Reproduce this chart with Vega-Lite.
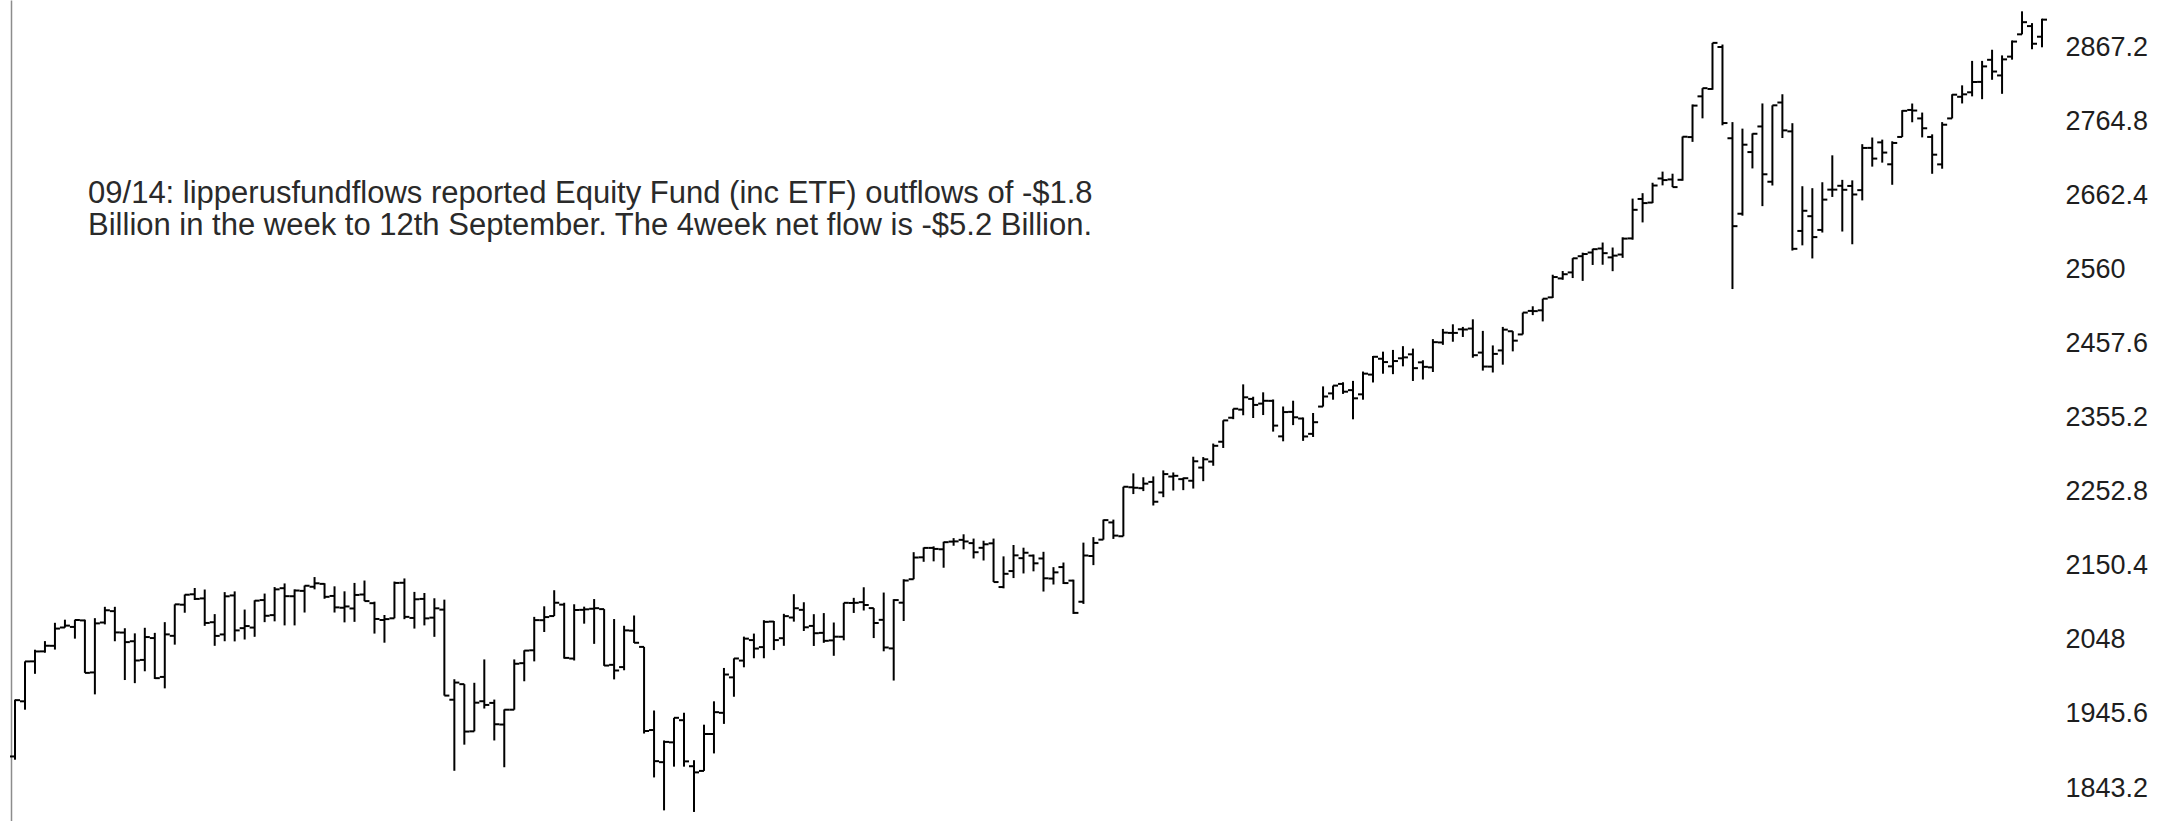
{
  "$schema": "https://vega.github.io/schema/vega-lite/v6.json",
  "width": 2044,
  "height": 821,
  "autosize": {"type": "none"},
  "padding": {"left": 11, "top": 0, "right": 110, "bottom": 0},
  "background": "#ffffff",
  "config": {"view": {"stroke": null}},
  "resolve": {"axis": {"y": "independent"}},
  "layer": [
    {
      "data": {"name": "weekly", "values": [
        {"date":"2014-10-24","open":1886.8,"high":1965.3,"low":1882.3,"close":1964.6},
        {"date":"2014-10-31","open":1963.0,"high":2018.2,"low":1951.4,"close":2018.1},
        {"date":"2014-11-07","open":2018.2,"high":2034.3,"low":2001.0,"close":2031.9},
        {"date":"2014-11-14","open":2032.0,"high":2046.2,"low":2030.2,"close":2039.8},
        {"date":"2014-11-21","open":2039.7,"high":2071.5,"low":2034.5,"close":2063.5},
        {"date":"2014-11-28","open":2065.0,"high":2075.8,"low":2064.8,"close":2067.6},
        {"date":"2014-12-05","open":2065.8,"high":2075.8,"low":2049.6,"close":2075.4},
        {"date":"2014-12-12","open":2074.8,"high":2075.8,"low":2002.3,"close":2002.3},
        {"date":"2014-12-19","open":2002.9,"high":2077.9,"low":1972.6,"close":2070.7},
        {"date":"2014-12-26","open":2071.9,"high":2093.6,"low":2069.3,"close":2088.8},
        {"date":"2015-01-02","open":2087.6,"high":2093.6,"low":2046.0,"close":2058.2},
        {"date":"2015-01-09","open":2058.0,"high":2064.0,"low":1992.4,"close":2044.8},
        {"date":"2015-01-16","open":2046.0,"high":2056.9,"low":1988.1,"close":2019.4},
        {"date":"2015-01-23","open":2020.2,"high":2064.6,"low":2004.5,"close":2051.8},
        {"date":"2015-01-30","open":2050.4,"high":2057.6,"low":1993.9,"close":1995.0},
        {"date":"2015-02-06","open":1996.7,"high":2072.4,"low":1980.9,"close":2055.5},
        {"date":"2015-02-13","open":2053.5,"high":2097.0,"low":2041.3,"close":2097.0},
        {"date":"2015-02-20","open":2096.5,"high":2110.6,"low":2085.4,"close":2110.3},
        {"date":"2015-02-27","open":2110.9,"high":2119.6,"low":2103.0,"close":2104.5},
        {"date":"2015-03-06","open":2105.2,"high":2117.5,"low":2067.3,"close":2071.3},
        {"date":"2015-03-13","open":2072.3,"high":2083.5,"low":2039.7,"close":2053.4},
        {"date":"2015-03-20","open":2055.4,"high":2113.9,"low":2046.0,"close":2108.1},
        {"date":"2015-03-27","open":2109.3,"high":2114.9,"low":2045.8,"close":2061.0},
        {"date":"2015-04-03","open":2064.1,"high":2089.8,"low":2048.4,"close":2067.0},
        {"date":"2015-04-10","open":2064.9,"high":2102.6,"low":2052.1,"close":2102.1},
        {"date":"2015-04-17","open":2102.9,"high":2111.9,"low":2072.4,"close":2081.2},
        {"date":"2015-04-24","open":2082.1,"high":2120.9,"low":2073.5,"close":2117.7},
        {"date":"2015-05-01","open":2119.3,"high":2125.9,"low":2067.9,"close":2108.3},
        {"date":"2015-05-08","open":2108.2,"high":2117.7,"low":2067.9,"close":2116.1},
        {"date":"2015-05-15","open":2115.6,"high":2123.0,"low":2085.7,"close":2122.7},
        {"date":"2015-05-22","open":2121.3,"high":2134.7,"low":2117.7,"close":2126.1},
        {"date":"2015-05-29","open":2125.3,"high":2126.2,"low":2104.7,"close":2107.4},
        {"date":"2015-06-05","open":2108.6,"high":2121.9,"low":2085.7,"close":2092.8},
        {"date":"2015-06-12","open":2092.3,"high":2115.0,"low":2072.1,"close":2094.1},
        {"date":"2015-06-19","open":2091.3,"high":2126.6,"low":2072.8,"close":2110.0},
        {"date":"2015-06-26","open":2110.6,"high":2129.9,"low":2101.4,"close":2101.5},
        {"date":"2015-07-03","open":2098.6,"high":2100.7,"low":2056.6,"close":2076.8},
        {"date":"2015-07-10","open":2075.4,"high":2082.3,"low":2044.0,"close":2076.6},
        {"date":"2015-07-17","open":2077.7,"high":2128.5,"low":2077.7,"close":2126.6},
        {"date":"2015-07-24","open":2126.8,"high":2132.8,"low":2076.5,"close":2079.7},
        {"date":"2015-07-31","open":2078.2,"high":2114.2,"low":2063.5,"close":2104.0},
        {"date":"2015-08-07","open":2104.5,"high":2112.7,"low":2067.9,"close":2077.6},
        {"date":"2015-08-14","open":2078.6,"high":2105.4,"low":2052.1,"close":2091.5},
        {"date":"2015-08-21","open":2089.7,"high":2103.5,"low":1970.9,"close":1970.9},
        {"date":"2015-08-28","open":1965.2,"high":1993.5,"low":1867.0,"close":1988.9},
        {"date":"2015-09-04","open":1986.7,"high":1986.7,"low":1903.1,"close":1921.2},
        {"date":"2015-09-11","open":1921.5,"high":1988.6,"low":1921.5,"close":1961.1},
        {"date":"2015-09-18","open":1963.1,"high":2020.9,"low":1953.0,"close":1958.0},
        {"date":"2015-09-25","open":1960.8,"high":1965.4,"low":1908.9,"close":1931.3},
        {"date":"2015-10-02","open":1930.9,"high":1951.8,"low":1871.9,"close":1951.4},
        {"date":"2015-10-09","open":1951.4,"high":2020.9,"low":1951.4,"close":2014.9},
        {"date":"2015-10-16","open":2015.7,"high":2033.5,"low":1990.7,"close":2033.1},
        {"date":"2015-10-23","open":2033.5,"high":2079.7,"low":2018.2,"close":2075.2},
        {"date":"2015-10-30","open":2075.1,"high":2094.3,"low":2058.8,"close":2079.4},
        {"date":"2015-11-06","open":2080.8,"high":2116.5,"low":2080.8,"close":2099.2},
        {"date":"2015-11-13","open":2096.6,"high":2099.2,"low":2022.0,"close":2023.0},
        {"date":"2015-11-20","open":2022.1,"high":2097.1,"low":2019.4,"close":2089.2},
        {"date":"2015-11-27","open":2089.4,"high":2093.8,"low":2070.3,"close":2090.1},
        {"date":"2015-12-04","open":2090.9,"high":2104.3,"low":2042.4,"close":2091.7},
        {"date":"2015-12-11","open":2090.4,"high":2090.4,"low":2012.0,"close":2012.4},
        {"date":"2015-12-18","open":2013.4,"high":2076.7,"low":1993.3,"close":2005.6},
        {"date":"2015-12-25","open":2010.3,"high":2067.4,"low":2005.9,"close":2061.0},
        {"date":"2016-01-01","open":2060.6,"high":2081.6,"low":2043.6,"close":2043.9},
        {"date":"2016-01-08","open":2038.2,"high":2038.2,"low":1918.5,"close":1922.0},
        {"date":"2016-01-15","open":1923.3,"high":1950.3,"low":1857.8,"close":1880.3},
        {"date":"2016-01-22","open":1878.9,"high":1908.9,"low":1812.3,"close":1906.9},
        {"date":"2016-01-29","open":1906.3,"high":1940.2,"low":1872.7,"close":1940.2},
        {"date":"2016-02-05","open":1936.9,"high":1947.2,"low":1872.7,"close":1880.0},
        {"date":"2016-02-12","open":1873.3,"high":1881.6,"low":1810.1,"close":1864.8},
        {"date":"2016-02-19","open":1866.8,"high":1930.7,"low":1866.8,"close":1917.8},
        {"date":"2016-02-26","open":1917.8,"high":1963.0,"low":1891.0,"close":1948.0},
        {"date":"2016-03-04","open":1947.1,"high":2009.1,"low":1931.8,"close":2000.0},
        {"date":"2016-03-11","open":1996.1,"high":2022.4,"low":1969.3,"close":2022.2},
        {"date":"2016-03-18","open":2019.3,"high":2052.4,"low":2010.0,"close":2049.6},
        {"date":"2016-03-25","open":2047.6,"high":2056.6,"low":2022.5,"close":2035.9},
        {"date":"2016-04-01","open":2037.9,"high":2075.1,"low":2022.5,"close":2072.8},
        {"date":"2016-04-08","open":2073.2,"high":2074.0,"low":2033.8,"close":2047.6},
        {"date":"2016-04-15","open":2050.2,"high":2083.9,"low":2039.7,"close":2080.7},
        {"date":"2016-04-22","open":2078.8,"high":2111.0,"low":2073.1,"close":2091.6},
        {"date":"2016-04-29","open":2089.4,"high":2099.9,"low":2060.2,"close":2065.3},
        {"date":"2016-05-06","open":2067.2,"high":2083.4,"low":2039.5,"close":2057.1},
        {"date":"2016-05-13","open":2057.6,"high":2084.9,"low":2043.8,"close":2046.6},
        {"date":"2016-05-20","open":2047.2,"high":2071.9,"low":2025.9,"close":2052.3},
        {"date":"2016-05-27","open":2052.2,"high":2099.1,"low":2047.3,"close":2099.1},
        {"date":"2016-06-03","open":2098.9,"high":2106.0,"low":2085.1,"close":2099.1},
        {"date":"2016-06-10","open":2100.0,"high":2120.6,"low":2088.5,"close":2096.1},
        {"date":"2016-06-17","open":2091.8,"high":2091.8,"low":2050.4,"close":2071.2},
        {"date":"2016-06-24","open":2075.6,"high":2113.3,"low":2032.1,"close":2037.4},
        {"date":"2016-07-01","open":2036.1,"high":2104.1,"low":1991.7,"close":2102.9},
        {"date":"2016-07-08","open":2099.3,"high":2131.7,"low":2074.0,"close":2129.9},
        {"date":"2016-07-15","open":2131.7,"high":2169.1,"low":2131.7,"close":2161.7},
        {"date":"2016-07-22","open":2162.0,"high":2175.6,"low":2155.8,"close":2175.0},
        {"date":"2016-07-29","open":2175.0,"high":2177.1,"low":2156.4,"close":2173.6},
        {"date":"2016-08-05","open":2173.1,"high":2183.5,"low":2147.6,"close":2182.9},
        {"date":"2016-08-12","open":2183.7,"high":2188.5,"low":2178.0,"close":2184.0},
        {"date":"2016-08-19","open":2186.1,"high":2193.8,"low":2173.0,"close":2183.9},
        {"date":"2016-08-26","open":2181.6,"high":2187.9,"low":2160.4,"close":2169.0},
        {"date":"2016-09-02","open":2175.1,"high":2184.9,"low":2157.6,"close":2180.0},
        {"date":"2016-09-09","open":2181.3,"high":2187.9,"low":2127.8,"close":2127.8},
        {"date":"2016-09-16","open":2120.9,"high":2163.3,"low":2119.1,"close":2139.2},
        {"date":"2016-09-23","open":2143.0,"high":2179.0,"low":2133.3,"close":2164.7},
        {"date":"2016-09-30","open":2160.8,"high":2175.3,"low":2139.7,"close":2168.3},
        {"date":"2016-10-07","open":2164.3,"high":2165.9,"low":2142.6,"close":2153.7},
        {"date":"2016-10-14","open":2160.4,"high":2169.6,"low":2114.7,"close":2133.0},
        {"date":"2016-10-21","open":2132.6,"high":2148.4,"low":2124.4,"close":2141.2},
        {"date":"2016-10-28","open":2148.5,"high":2154.8,"low":2125.1,"close":2126.4},
        {"date":"2016-11-04","open":2129.8,"high":2131.1,"low":2083.8,"close":2085.2},
        {"date":"2016-11-11","open":2100.6,"high":2182.3,"low":2097.6,"close":2164.5},
        {"date":"2016-11-18","open":2163.8,"high":2189.9,"low":2151.2,"close":2181.9},
        {"date":"2016-11-25","open":2186.4,"high":2214.1,"low":2186.4,"close":2213.4},
        {"date":"2016-12-02","open":2210.2,"high":2214.1,"low":2187.4,"close":2192.0},
        {"date":"2016-12-09","open":2191.1,"high":2259.5,"low":2191.1,"close":2259.5},
        {"date":"2016-12-16","open":2258.8,"high":2278.0,"low":2249.4,"close":2258.1},
        {"date":"2016-12-23","open":2257.5,"high":2272.6,"low":2253.5,"close":2263.8},
        {"date":"2016-12-30","open":2266.2,"high":2273.8,"low":2233.6,"close":2238.8},
        {"date":"2017-01-06","open":2251.6,"high":2282.1,"low":2245.1,"close":2277.0},
        {"date":"2017-01-13","open":2273.6,"high":2279.3,"low":2254.3,"close":2274.6},
        {"date":"2017-01-20","open":2270.0,"high":2272.1,"low":2254.8,"close":2271.3},
        {"date":"2017-01-27","open":2267.8,"high":2301.0,"low":2257.0,"close":2294.7},
        {"date":"2017-02-03","open":2286.0,"high":2300.5,"low":2267.2,"close":2297.4},
        {"date":"2017-02-10","open":2294.3,"high":2319.2,"low":2288.5,"close":2316.1},
        {"date":"2017-02-17","open":2321.7,"high":2351.3,"low":2313.1,"close":2351.2},
        {"date":"2017-02-24","open":2354.9,"high":2367.3,"low":2352.9,"close":2367.3},
        {"date":"2017-03-03","open":2366.1,"high":2401.0,"low":2358.3,"close":2383.1},
        {"date":"2017-03-10","open":2380.9,"high":2383.9,"low":2354.5,"close":2372.6},
        {"date":"2017-03-17","open":2374.4,"high":2390.0,"low":2358.6,"close":2378.3},
        {"date":"2017-03-24","open":2378.2,"high":2380.1,"low":2335.7,"close":2344.0},
        {"date":"2017-03-31","open":2329.1,"high":2370.4,"low":2322.3,"close":2362.7},
        {"date":"2017-04-07","open":2363.0,"high":2378.4,"low":2344.7,"close":2355.5},
        {"date":"2017-04-14","open":2353.8,"high":2355.2,"low":2322.9,"close":2329.0},
        {"date":"2017-04-21","open":2332.6,"high":2361.4,"low":2328.3,"close":2348.7},
        {"date":"2017-04-28","open":2370.3,"high":2398.2,"low":2370.3,"close":2384.2},
        {"date":"2017-05-05","open":2388.5,"high":2399.3,"low":2379.8,"close":2399.3},
        {"date":"2017-05-12","open":2401.6,"high":2403.9,"low":2387.8,"close":2390.9},
        {"date":"2017-05-19","open":2393.0,"high":2405.8,"low":2352.7,"close":2381.7},
        {"date":"2017-05-26","open":2387.2,"high":2418.7,"low":2379.8,"close":2415.8},
        {"date":"2017-06-02","open":2414.5,"high":2440.2,"low":2403.6,"close":2439.1},
        {"date":"2017-06-09","open":2436.4,"high":2446.2,"low":2415.7,"close":2431.8},
        {"date":"2017-06-16","open":2425.9,"high":2448.6,"low":2415.1,"close":2433.2},
        {"date":"2017-06-23","open":2437.0,"high":2453.8,"low":2425.9,"close":2438.3},
        {"date":"2017-06-30","open":2442.5,"high":2450.4,"low":2405.7,"close":2423.4},
        {"date":"2017-07-07","open":2431.4,"high":2434.3,"low":2407.7,"close":2425.2},
        {"date":"2017-07-14","open":2424.5,"high":2463.5,"low":2418.1,"close":2459.3},
        {"date":"2017-07-21","open":2458.9,"high":2477.6,"low":2455.6,"close":2472.5},
        {"date":"2017-07-28","open":2472.1,"high":2484.0,"low":2459.9,"close":2472.1},
        {"date":"2017-08-04","open":2477.1,"high":2480.4,"low":2466.5,"close":2476.8},
        {"date":"2017-08-11","open":2478.1,"high":2490.9,"low":2437.8,"close":2441.3},
        {"date":"2017-08-18","open":2444.9,"high":2474.9,"low":2420.0,"close":2425.6},
        {"date":"2017-08-25","open":2425.5,"high":2454.8,"low":2417.4,"close":2443.1},
        {"date":"2017-09-01","open":2447.9,"high":2480.4,"low":2428.2,"close":2476.6},
        {"date":"2017-09-08","open":2474.4,"high":2474.5,"low":2446.6,"close":2461.4},
        {"date":"2017-09-15","open":2470.0,"high":2500.2,"low":2470.0,"close":2500.2},
        {"date":"2017-09-22","open":2502.5,"high":2508.9,"low":2496.7,"close":2502.2},
        {"date":"2017-09-29","open":2503.3,"high":2519.4,"low":2488.0,"close":2519.4},
        {"date":"2017-10-06","open":2521.2,"high":2552.5,"low":2520.4,"close":2549.3},
        {"date":"2017-10-13","open":2547.4,"high":2557.6,"low":2545.5,"close":2553.2},
        {"date":"2017-10-20","open":2555.7,"high":2575.4,"low":2547.9,"close":2575.2},
        {"date":"2017-10-27","open":2578.1,"high":2583.0,"low":2544.0,"close":2581.1},
        {"date":"2017-11-03","open":2583.2,"high":2588.4,"low":2566.0,"close":2587.8},
        {"date":"2017-11-10","open":2588.7,"high":2597.0,"low":2566.3,"close":2582.3},
        {"date":"2017-11-17","open":2576.5,"high":2590.1,"low":2557.4,"close":2578.9},
        {"date":"2017-11-24","open":2580.4,"high":2604.2,"low":2575.8,"close":2602.4},
        {"date":"2017-12-01","open":2602.7,"high":2657.7,"low":2600.9,"close":2642.2},
        {"date":"2017-12-08","open":2657.2,"high":2665.2,"low":2624.8,"close":2651.5},
        {"date":"2017-12-15","open":2652.2,"high":2679.6,"low":2651.5,"close":2675.8},
        {"date":"2017-12-22","open":2685.5,"high":2695.0,"low":2676.0,"close":2683.3},
        {"date":"2017-12-29","open":2684.2,"high":2692.1,"low":2673.6,"close":2673.6},
        {"date":"2018-01-05","open":2683.7,"high":2743.5,"low":2682.4,"close":2743.2},
        {"date":"2018-01-12","open":2742.7,"high":2787.8,"low":2736.1,"close":2786.2},
        {"date":"2018-01-19","open":2799.0,"high":2810.3,"low":2768.6,"close":2810.3},
        {"date":"2018-01-26","open":2809.2,"high":2872.9,"low":2808.1,"close":2872.9},
        {"date":"2018-02-02","open":2867.2,"high":2870.6,"low":2759.0,"close":2762.1},
        {"date":"2018-02-09","open":2741.1,"high":2763.4,"low":2532.7,"close":2619.6},
        {"date":"2018-02-16","open":2636.8,"high":2754.4,"low":2634.1,"close":2732.2},
        {"date":"2018-02-23","open":2722.0,"high":2747.8,"low":2699.4,"close":2747.3},
        {"date":"2018-03-02","open":2757.4,"high":2789.2,"low":2647.3,"close":2691.3},
        {"date":"2018-03-09","open":2681.0,"high":2786.6,"low":2675.8,"close":2786.6},
        {"date":"2018-03-16","open":2790.5,"high":2801.9,"low":2741.4,"close":2752.0},
        {"date":"2018-03-23","open":2750.6,"high":2761.9,"low":2585.9,"close":2588.3},
        {"date":"2018-03-30","open":2613.0,"high":2674.8,"low":2593.1,"close":2640.9},
        {"date":"2018-04-06","open":2633.4,"high":2672.1,"low":2575.0,"close":2604.5},
        {"date":"2018-04-13","open":2614.4,"high":2680.3,"low":2610.8,"close":2656.3},
        {"date":"2018-04-20","open":2670.1,"high":2717.5,"low":2660.0,"close":2670.1},
        {"date":"2018-04-27","open":2675.4,"high":2683.6,"low":2612.2,"close":2669.9},
        {"date":"2018-05-04","open":2675.2,"high":2682.9,"low":2594.6,"close":2663.4},
        {"date":"2018-05-11","open":2669.4,"high":2732.9,"low":2655.2,"close":2727.7},
        {"date":"2018-05-18","open":2727.8,"high":2742.1,"low":2701.9,"close":2713.0},
        {"date":"2018-05-25","open":2735.4,"high":2739.2,"low":2707.4,"close":2721.3},
        {"date":"2018-06-01","open":2705.1,"high":2736.9,"low":2676.8,"close":2734.6},
        {"date":"2018-06-08","open":2742.9,"high":2779.9,"low":2742.9,"close":2779.0},
        {"date":"2018-06-15","open":2780.2,"high":2789.1,"low":2763.2,"close":2779.4},
        {"date":"2018-06-22","open":2768.5,"high":2776.6,"low":2742.3,"close":2754.9},
        {"date":"2018-06-29","open":2742.9,"high":2746.5,"low":2692.0,"close":2718.4},
        {"date":"2018-07-06","open":2705.0,"high":2763.4,"low":2699.0,"close":2759.8},
        {"date":"2018-07-13","open":2768.5,"high":2801.9,"low":2768.5,"close":2801.3},
        {"date":"2018-07-20","open":2798.4,"high":2814.2,"low":2789.2,"close":2801.8},
        {"date":"2018-07-27","open":2804.6,"high":2848.0,"low":2799.0,"close":2818.8},
        {"date":"2018-08-03","open":2819.0,"high":2848.0,"low":2795.1,"close":2840.4},
        {"date":"2018-08-10","open":2849.5,"high":2863.4,"low":2821.9,"close":2833.3},
        {"date":"2018-08-17","open":2827.9,"high":2855.6,"low":2802.5,"close":2850.1},
        {"date":"2018-08-24","open":2853.9,"high":2876.2,"low":2849.7,"close":2874.7},
        {"date":"2018-08-31","open":2884.7,"high":2916.5,"low":2884.7,"close":2901.5},
        {"date":"2018-09-07","open":2896.1,"high":2900.2,"low":2864.1,"close":2871.7},
        {"date":"2018-09-14","open":2881.4,"high":2906.3,"low":2866.8,"close":2905.0}
      ]},
      "mark": {"type": "rule", "color": "#000000", "strokeWidth": 2},
      "encoding": {
        "x": {"field": "date", "type": "temporal", "axis": null,
              "scale": {"domain": [{"year": 2014, "month": 10, "date": 21, "hours": 4, "minutes": 42, "utc": true}, {"year": 2018, "month": 9, "date": 23, "hours": 2, "minutes": 43, "utc": true}]}},
        "y": {"field": "low", "type": "quantitative",
              "scale": {"domain": [1797.6, 2932.15], "nice": false, "zero": false},
              "axis": {"orient": "left", "labels": false, "ticks": false, "grid": false, "title": null, "domain": true, "domainColor": "#8c8c8c", "domainWidth": 1.5}},
        "y2": {"field": "high"}
      }
    },
    {
      "data": {"name": "weekly"},
      "mark": {"type": "rule", "color": "#000000", "strokeWidth": 2, "xOffset": -5, "x2Offset": 0},
      "encoding": {
        "x": {"field": "date", "type": "temporal"},
        "x2": {"field": "date"},
        "y": {"field": "open", "type": "quantitative",
              "axis": {"orient": "right", "values": [1843.2, 1945.6, 2048, 2150.4, 2252.8, 2355.2, 2457.6, 2560, 2662.4, 2764.8, 2867.2],
                       "format": ".1~f", "ticks": false, "domain": false, "grid": false, "title": null,
                       "labelFont": "Liberation Sans", "labelFontSize": 27, "labelColor": "#1e1e1e", "labelPadding": 10}}
      }
    },
    {
      "data": {"name": "weekly"},
      "mark": {"type": "rule", "color": "#000000", "strokeWidth": 2, "xOffset": 0, "x2Offset": 5},
      "encoding": {
        "x": {"field": "date", "type": "temporal"},
        "x2": {"field": "date"},
        "y": {"field": "close", "type": "quantitative", "axis": null}
      }
    },
    {
      "data": {"values": [{"note": "09/14"}]},
      "mark": {"type": "text", "align": "left", "baseline": "alphabetic", "font": "Liberation Sans", "fontSize": 31, "fontWeight": "normal", "lineHeight": 32, "color": "#2a2a2a"},
      "encoding": {
        "x": {"datum": {"year": 2014, "month": 12, "date": 14, "hours": 5, "utc": true}, "type": "temporal"},
        "y": {"datum": 2651, "type": "quantitative", "axis": null},
        "text": {"value": ["09/14: lipperusfundflows reported Equity Fund (inc ETF) outflows of -$1.8", "Billion in the week to 12th September. The 4week net flow is -$5.2 Billion."]}
      }
    }
  ]
}
